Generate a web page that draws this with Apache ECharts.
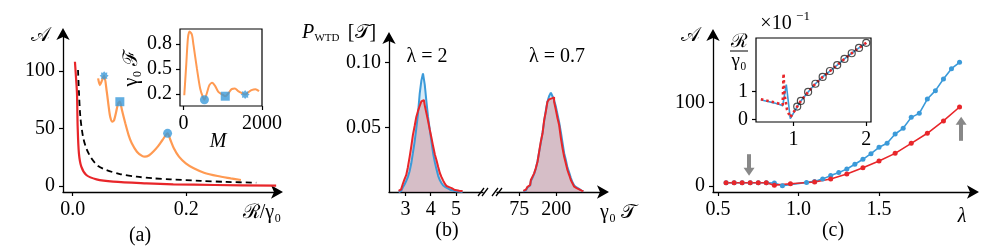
<!DOCTYPE html>
<html><head><meta charset="utf-8">
<script src="https://cdn.jsdelivr.net/npm/echarts@6/dist/echarts.min.js"></script>
<style>html,body{margin:0;padding:0;background:#fff}#c{width:997px;height:249px}</style>
</head><body><div id="c"></div>
<script>
// ---------- Panel (a) main ----------
const aRedR  = [0.004, 0.0058, 0.0076, 0.0088, 0.011, 0.0152, 0.024, 0.042, 0.0713, 0.13, 0.177, 0.25, 0.358];
const aRedA  = [108, 95, 80.6, 51.6, 28.4, 16.8, 9.6, 5.8, 3.8, 2.3, 1.5, 0.9, 0.3];
const aDashR = [0.0094, 0.0112, 0.0135, 0.0182, 0.024, 0.033, 0.0448, 0.0595, 0.083, 0.1126, 0.142, 0.172, 0.225, 0.27, 0.323];
const aDashA = [100.9, 80.6, 60.3, 42.9, 32.8, 24.1, 17.4, 13.9, 10.4, 8.1, 6.7, 5.8, 4.5, 3.6, 2.9];
const aOrR   = [0.0448, 0.0478, 0.0505, 0.0554, 0.060, 0.063, 0.066, 0.070, 0.073, 0.0766, 0.080, 0.083, 0.0867, 0.0926, 0.0984, 0.104, 0.113, 0.122, 0.127, 0.134, 0.142, 0.150, 0.158, 0.167, 0.172, 0.178, 0.187, 0.199, 0.213, 0.231, 0.255, 0.278, 0.296];
const aOrA   = [93.6, 87.8, 90.5, 95.9, 82, 70.4, 60.3, 55.9, 57.4, 64.6, 71.9, 73.3, 66, 54.5, 44.3, 37.1, 29.8, 26.2, 25.5, 26.5, 30, 34.5, 40, 45.8, 40, 32.8, 25.5, 19.7, 15.4, 11.6, 8.7, 6.7, 5.2];
const aMarkR = [0.0554, 0.083, 0.167];
const aMarkA = [95.9, 73.3, 45.8];
const aTicksX = [0, 0.2];
const aTicksY = [0, 50, 100];
// ---------- Panel (a) inset ----------
const inM = [18, 68, 111, 152, 213, 253, 339, 423, 491, 532, 592, 658, 727, 803, 887, 998, 1063, 1139, 1225, 1309, 1393, 1504, 1570, 1646, 1732, 1833, 1924];
const inF = [0.184, 0.55, 0.873, 0.953, 0.913, 0.79, 0.51, 0.265, 0.163, 0.13, 0.205, 0.305, 0.333, 0.297, 0.224, 0.19, 0.172, 0.205, 0.257, 0.265, 0.233, 0.205, 0.192, 0.217, 0.245, 0.257, 0.233];
const inMarkM = [532, 1063, 1570];
const inMarkF = [0.13, 0.172, 0.192];
const inTicksX = [0, 2000];
const inTicksY = [0.2, 0.5, 0.8];
// ---------- Panel (b) ----------
const bLeftT = [2.73, 2.80, 2.86, 2.93, 3.00, 3.06, 3.13, 3.20, 3.26, 3.33, 3.40, 3.46, 3.53, 3.60, 3.66, 3.73, 3.80, 3.86, 3.93, 4.00, 4.06, 4.13, 4.20, 4.26, 4.33, 4.40, 4.46, 4.53, 4.60, 4.66, 4.73, 4.80, 4.86, 4.93, 5.00, 5.06, 5.13, 5.20, 5.26];
const bLeftRed  = [0.0008, 0.0020, 0.0035, 0.0062, 0.0100, 0.0130, 0.0190, 0.0270, 0.0350, 0.0440, 0.0510, 0.0580, 0.0625, 0.0665, 0.0700, 0.0711, 0.0670, 0.0610, 0.0550, 0.0480, 0.0420, 0.0355, 0.0290, 0.0245, 0.0195, 0.0145, 0.0115, 0.0088, 0.0062, 0.0046, 0.0038, 0.0030, 0.0024, 0.0018, 0.0014, 0.0012, 0.0010, 0.0008, 0.0006];
const bLeftBlue = [0, 0.0008, 0.0018, 0.0035, 0.0058, 0.0085, 0.0115, 0.0160, 0.0220, 0.0300, 0.0390, 0.0490, 0.0600, 0.0760, 0.0860, 0.0917, 0.0830, 0.0700, 0.0580, 0.0480, 0.0390, 0.0300, 0.0230, 0.0175, 0.0125, 0.0090, 0.0068, 0.0050, 0.0035, 0.0026, 0.0020, 0.0015, 0.0011, 0.0008, 0.0005, 0.0003, 0.0002, 0.0001, 0];
const bRightT = [89, 95, 100, 106, 112, 117, 123, 128, 134, 140, 145, 151, 157, 162, 168, 173, 179, 185, 190, 196, 202, 207, 213, 219, 224, 230, 235, 241, 247, 252, 258, 264, 269, 275, 280, 286, 292];
const bRightRed  = [0.0008, 0.0018, 0.0028, 0.0040, 0.0054, 0.0093, 0.0119, 0.0144, 0.0183, 0.0234, 0.0312, 0.0389, 0.0454, 0.0557, 0.0621, 0.0698, 0.0716, 0.0724, 0.0732, 0.0698, 0.0634, 0.0570, 0.0518, 0.0415, 0.0338, 0.0273, 0.0222, 0.0170, 0.0131, 0.0093, 0.0067, 0.0041, 0.0030, 0.0021, 0.0015, 0.0010, 0.0008];
const bRightBlue = [0.0005, 0.0012, 0.0022, 0.0035, 0.0050, 0.0085, 0.0110, 0.0140, 0.0180, 0.0240, 0.0310, 0.0380, 0.0460, 0.0550, 0.0630, 0.0700, 0.0740, 0.0768, 0.0740, 0.0710, 0.0660, 0.0600, 0.0540, 0.0460, 0.0380, 0.0300, 0.0250, 0.0190, 0.0150, 0.0110, 0.0075, 0.0050, 0.0035, 0.0024, 0.0016, 0.0010, 0.0006];
const bTicksLeft = [3, 4, 5];
const bTicksRight = [75, 200];
const bTicksY = [0.05, 0.10];
// ---------- Panel (c) main ----------
const cBlueL = [0.55, 0.6, 0.65, 0.7, 0.75, 0.8, 0.85, 0.9, 1.05, 1.1, 1.15, 1.2, 1.25, 1.3, 1.35, 1.4, 1.45, 1.5, 1.55, 1.6, 1.65, 1.7, 1.75, 1.8, 1.85, 1.9, 1.95, 2.0];
const cBlueA = [3.9, 3.9, 3.9, 3.9, 3.9, 3.9, 3.5, 0.4, 4.3, 5.5, 8.5, 12.4, 16, 20.3, 26, 31.9, 38.6, 46.2, 51, 62.1, 68.9, 82, 86.8, 103.9, 113.9, 127.8, 140.2, 147.8];
const cRedL = [0.55, 0.6, 0.65, 0.7, 0.75, 0.8, 0.85, 0.95, 1.1, 1.2, 1.3, 1.4, 1.5, 1.6, 1.7, 1.8, 1.9, 2.0];
const cRedA = [3.9, 3.9, 3.9, 3.9, 3.9, 3.9, 1.0, 2.6, 4.8, 8.4, 14.3, 21.9, 29.9, 39, 51, 63, 77.7, 94.4];
const cArrowL = [0.693, 2.01];
const cArrowFrom = [38, 54];
const cArrowTo = [17, 78];
const cTicksX = [0.5, 1.0, 1.5];
const cTicksY = [0, 100];
// ---------- Panel (c) inset ----------
const ciBlueL = [0.55, 0.6, 0.65, 0.7, 0.75, 0.8, 0.85, 0.9, 0.955, 1.05, 1.1, 1.2, 1.3, 1.4, 1.5, 1.6, 1.7, 1.8, 1.9, 2.0];
const ciBlueV = [0.70, 0.67, 0.64, 0.61, 0.58, 0.54, 0.49, 1.24, 0.03, 0.46, 0.66, 0.98, 1.27, 1.51, 1.72, 1.93, 2.15, 2.35, 2.54, 2.72];
const ciRedL = [0.55, 0.6, 0.65, 0.7, 0.75, 0.8, 0.85, 0.862, 0.875, 0.91, 0.955, 1.05, 1.1, 1.2, 1.3, 1.4, 1.5, 1.6, 1.7, 1.8, 1.9, 2.0];
const ciRedV = [0.72, 0.69, 0.66, 0.63, 0.60, 0.56, 0.52, 1.63, 0.9, 0.35, 0.08, 0.46, 0.66, 0.98, 1.27, 1.51, 1.72, 1.93, 2.15, 2.35, 2.54, 2.72];
const ciCircL = [1.05, 1.1, 1.2, 1.3, 1.4, 1.5, 1.6, 1.7, 1.8, 1.9, 2.0];
const ciCircV = [0.46, 0.66, 0.98, 1.27, 1.51, 1.72, 1.93, 2.15, 2.35, 2.54, 2.72];
const ciTicksX = [1, 2];
const ciTicksY = [0, 1];

const zip = (a, b) => a.map((v, i) => [v, b[i]]);
const FONT = "'Liberation Serif','DejaVu Serif',serif";
const BLUE = '#3b9ad9', RED = '#e8262a', ORANGE = '#ff9a52', BLACK = '#000';
const STAR = 'path://M0,-10L2.6,-6.3L7.1,-7.1L6.3,-2.6L10,0L6.3,2.6L7.1,7.1L2.6,6.3L0,10L-2.6,6.3L-7.1,7.1L-6.3,2.6L-10,0L-6.3,-2.6L-7.1,-7.1L-2.6,-6.3Z';
const markShapes = [STAR, 'rect', 'circle'];
const inMarkShapes = ['circle', 'rect', STAR];

function axis(grid, min, max, ticks, o) {
  o = o || {};
  return {
    type: 'value', gridIndex: grid, min: min, max: max, show: o.hide ? false : true,
    splitLine: {show: false},
    axisLine: {show: o.noLine ? false : true, onZero: false,
      lineStyle: {color: BLACK, width: 1.3},
      symbol: o.arrow ? ['none', 'arrow'] : 'none', symbolSize: [10, 12], symbolOffset: [0, 4]},
    axisTick: {show: true, customValues: ticks, length: 4, lineStyle: {color: BLACK, width: 1.2}},
    axisLabel: {show: true, customValues: ticks, color: BLACK, fontFamily: FONT, fontSize: o.fs || 20,
      margin: o.margin || 8, formatter: o.fmt || (v => String(v))}
  };
}

const grids = [
  {left: 63, top: 32, width: 216, height: 160},
  {left: 180, top: 29, width: 82, height: 77, show: true, borderColor: BLACK, borderWidth: 1.2},
  {left: 389, top: 36, width: 94, height: 156},
  {left: 497, top: 36, width: 108, height: 156},
  {left: 713, top: 33, width: 262, height: 159},
  {left: 756, top: 38, width: 115, height: 84, show: true, borderColor: BLACK, borderWidth: 1.2}
];

const xAxes = [
  axis(0, -0.017, 0.363, aTicksX, {arrow: true, fmt: v => v.toFixed(1)}),
  axis(1, -91, 2000, inTicksX, {noLine: true}),
  axis(2, 2.35, 6.07, bTicksLeft, {}),
  axis(3, 0, 365, bTicksRight, {arrow: true}),
  axis(4, 0.469, 2.096, cTicksX, {arrow: true, fmt: v => v.toFixed(1)}),
  axis(5, 0.483, 2.065, ciTicksX, {noLine: true})
];
const yAxes = [
  axis(0, -5.2, 133.9, aTicksY, {arrow: true}),
  axis(1, 0.054, 0.982, inTicksY, {noLine: true}),
  axis(2, 0, 0.1206, bTicksY, {arrow: true, fmt: v => v.toFixed(2)}),
  axis(3, 0, 0.1206, [], {hide: true}),
  axis(4, -7.17, 182.8, cTicksY, {arrow: true}),
  axis(5, -0.086, 2.89, ciTicksY, {noLine: true})
];

function line(xi, data, color, width, extra) {
  return Object.assign({type: 'line', xAxisIndex: xi, yAxisIndex: xi, data: data, showSymbol: false,
    symbol: 'none', animation: false, lineStyle: {color: color, width: width}, itemStyle: {color: color}}, extra || {});
}
function hist(xi, t, v, color, fill) {
  return {type: 'line', xAxisIndex: xi, yAxisIndex: xi, data: zip(t, v), step: 'middle', symbol: 'none',
    animation: false, lineStyle: {color: color, width: 2}, areaStyle: {color: fill, opacity: 1}};
}

const series = [
  line(0, zip(aRedR, aRedA), RED, 2.2, {smooth: 0.3}),
  line(0, zip(aDashR, aDashA), BLACK, 1.8, {smooth: 0.3, lineStyle: {color: BLACK, width: 1.8, type: [6, 4]}}),
  line(0, zip(aOrR, aOrA), ORANGE, 2.2, {smooth: 0.25}),
  {type: 'scatter', xAxisIndex: 0, yAxisIndex: 0, animation: false, symbolSize: 9, itemStyle: {color: BLUE},
    data: aMarkR.map((r, i) => ({value: [r, aMarkA[i]], symbol: markShapes[i]})), z: 5},
  line(1, zip(inM, inF), ORANGE, 2.0, {smooth: 0.25}),
  {type: 'scatter', xAxisIndex: 1, yAxisIndex: 1, animation: false, symbolSize: 9, itemStyle: {color: BLUE},
    data: inMarkM.map((m, i) => ({value: [m, inMarkF[i]], symbol: inMarkShapes[i]})), z: 5},
  hist(2, bLeftT, bLeftBlue, BLUE, 'rgba(59,154,217,0.2)'),
  hist(2, bLeftT, bLeftRed, RED, 'rgba(209,85,90,0.3)'),
  hist(3, bRightT, bRightBlue, BLUE, 'rgba(59,154,217,0.2)'),
  hist(3, bRightT, bRightRed, RED, 'rgba(209,85,90,0.3)'),
  line(4, zip(cBlueL, cBlueA), BLUE, 1.6, {showSymbol: true, symbol: 'circle', symbolSize: 5}),
  line(4, zip(cRedL, cRedA), RED, 1.6, {showSymbol: true, symbol: 'circle', symbolSize: 5}),
  {type: 'line', xAxisIndex: 4, yAxisIndex: 4, data: [], animation: false,
    markLine: {silent: true, animation: false, symbol: ['none', 'triangle'], symbolSize: [11, 8],
      label: {show: false}, lineStyle: {color: '#888', width: 4, type: 'solid'},
      data: cArrowL.map((l, i) => [{coord: [l, cArrowFrom[i]], symbolRotate: i === 0 ? 180 : 0}, {coord: [l, cArrowTo[i]], symbolRotate: i === 0 ? 180 : 0}])}},
  line(5, zip(ciBlueL, ciBlueV), BLUE, 1.6),
  line(5, zip(ciRedL, ciRedV), RED, 2.6, {lineStyle: {color: RED, width: 2.6, type: [2.5, 3]}}),
  {type: 'scatter', xAxisIndex: 5, yAxisIndex: 5, animation: false, symbolSize: 7, z: 5,
    itemStyle: {color: 'rgba(0,0,0,0)', borderColor: '#222', borderWidth: 1.2}, data: zip(ciCircL, ciCircV)}
];

function txt(s, x, y, fs, extra) {
  return Object.assign({type: 'text', x: x, y: y, silent: true,
    style: {text: s, font: (fs || 20) + 'px ' + FONT, fill: BLACK, align: 'center', verticalAlign: 'middle'}}, extra || {});
}
function ital(s, x, y, fs) {
  return {type: 'text', x: x, y: y, silent: true,
    style: {text: s, font: 'italic ' + (fs || 20) + 'px ' + FONT, fill: BLACK, align: 'center', verticalAlign: 'middle'}};
}
const graphic = [
  txt('𝒜', 40, 36, 20),
  txt('ℛ/γ₀', 262, 213, 20),
  txt('(a)', 140, 236, 20),
  {type: 'text', x: 132, y: 68, rotation: Math.PI / 2, silent: true,
    style: {text: 'γ₀ ℱ', font: '20px ' + FONT, fill: BLACK, align: 'center', verticalAlign: 'middle'}},
  ital('M', 218, 142, 20),
  ital('P', 308, 33, 20),
  txt('WTD', 327, 38, 11),
  txt('[𝒯]', 362, 33, 20),
  txt('λ = 2', 427, 57, 20),
  txt('λ = 0.7', 557, 57, 20),
  txt('γ₀ 𝒯', 618, 213, 20),
  txt('(b)', 447, 231, 20),
  txt('𝒜', 690, 36, 20),
  ital('λ', 962, 217, 20),
  txt('(c)', 833, 231, 20),
  txt('×10', 776, 24, 20),
  txt('−1', 803, 17, 13),
  txt('ℛ', 739, 42, 19),
  {type: 'line', silent: true, shape: {x1: 730, y1: 51, x2: 748, y2: 51}, style: {stroke: BLACK, lineWidth: 1}},
  txt('γ₀', 739, 61, 19),
  // axis break marks
  {type: 'line', silent: true, shape: {x1: 478, y1: 196, x2: 484, y2: 188}, style: {stroke: BLACK, lineWidth: 1.3}},
  {type: 'line', silent: true, shape: {x1: 482, y1: 196, x2: 488, y2: 188}, style: {stroke: BLACK, lineWidth: 1.3}},
  {type: 'line', silent: true, shape: {x1: 492, y1: 196, x2: 498, y2: 188}, style: {stroke: BLACK, lineWidth: 1.3}},
  {type: 'line', silent: true, shape: {x1: 496, y1: 196, x2: 502, y2: 188}, style: {stroke: BLACK, lineWidth: 1.3}}
];

const chart = echarts.init(document.getElementById('c'));
chart.setOption({animation: false, backgroundColor: '#fff', grid: grids, xAxis: xAxes, yAxis: yAxes, series: series, graphic: graphic});
</script></body></html>
